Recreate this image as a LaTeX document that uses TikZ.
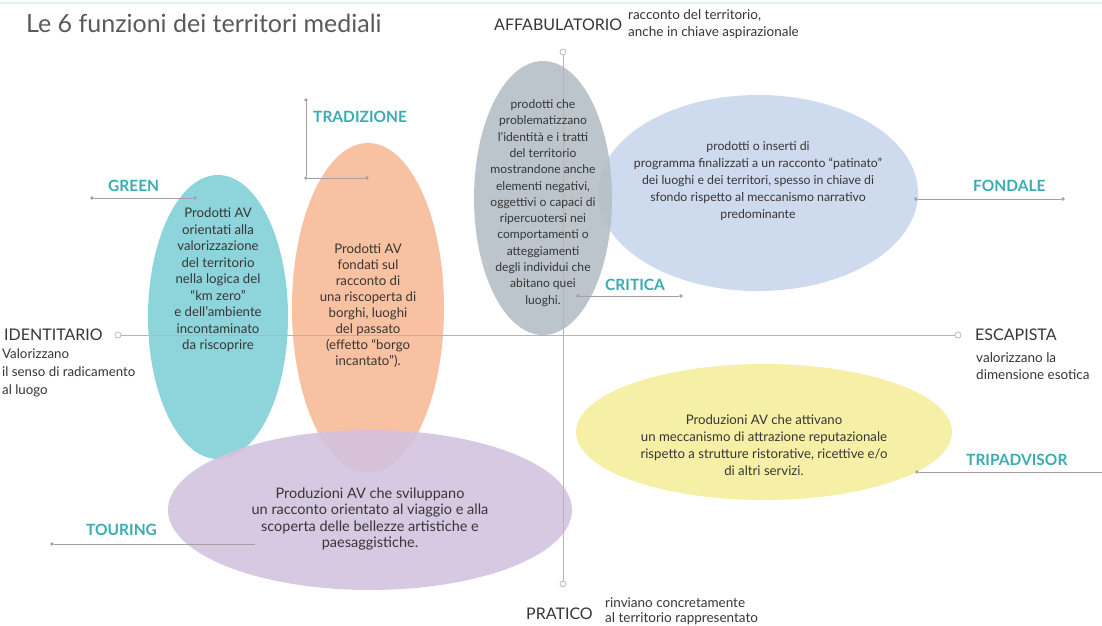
\documentclass[tikz,border=0pt]{standalone}
\usepackage{fontspec}
\setmainfont{Lato}
\usetikzlibrary{shapes.geometric}
\definecolor{cyanE}{HTML}{7FCFD7}
\definecolor{orangeE}{HTML}{F6B996}
\definecolor{grayE}{HTML}{B3BEC4}
\definecolor{blueE}{HTML}{C8D6EC}
\definecolor{yellowE}{HTML}{F4EE9A}
\definecolor{purpleE}{HTML}{D3C2E0}
\definecolor{teal}{HTML}{3AADB2}
\definecolor{txt}{HTML}{363636}
\definecolor{titlegray}{HTML}{5A5A5A}
\definecolor{axisc}{HTML}{BDB0B6}
\definecolor{leadc}{HTML}{A89DA3}
\definecolor{topc}{HTML}{DDF1F4}
\tikzset{
  blob/.style={ellipse, inner sep=0pt, draw=none, fill opacity=0.88},
  body/.style={align=center, inner sep=0pt, text=txt},
  axlab/.style={anchor=west, inner sep=0pt, text=txt, font=\fontsize{16}{18}\selectfont},
  axnote/.style={anchor=west, align=left, inner sep=0pt, text=txt},
  catlab/.style={anchor=west, inner sep=0pt, text=teal, font=\bfseries\fontsize{15.5}{17}\selectfont},
  axend/.style={circle, draw=axisc, fill=white, line width=0.7pt, minimum size=6pt, inner sep=0pt},
  leaddot/.style={circle, fill=leadc, minimum size=3.6pt, inner sep=0pt},
  axisline/.style={draw=axisc, line width=0.8pt},
  leadline/.style={draw=leadc, line width=0.7pt},
}
\begin{document}
\begin{tikzpicture}[x=1pt,y=-1pt]
\useasboundingbox (0,0) rectangle (1102,625);
\fill[white] (0,0) rectangle (1102,625);
\coordinate (tl) at (0,3);
\coordinate (tr) at (1102,3);
\draw[topc, line width=1.2pt] (tl) -- (tr);

% title
\node[anchor=west, inner sep=0pt, text=titlegray, font=\fontsize{25}{28}\selectfont] (title) at (26,23) {Le 6 funzioni dei territori mediali};

% ellipses
\node[blob, fill=cyanE, minimum width=140pt, minimum height=284pt] (green) at (218,317) {};
\node[blob, fill=orangeE, minimum width=152pt, minimum height=330pt] (trad) at (368,308) {};
\node[blob, fill=blueE, minimum width=320pt, minimum height=196pt] (fond) at (758,193) {};
\node[blob, fill=grayE, minimum width=138pt, minimum height=274pt] (crit) at (543,198) {};
\node[blob, fill=yellowE, minimum width=376pt, minimum height=136pt] (trip) at (764,432) {};
\node[blob, fill=purpleE, minimum width=404pt, minimum height=160pt] (tour) at (370,510) {};

% axes
\node[axend] (idot) at (118,335) {};
\node[axend] (edot) at (958,335) {};
\node[axend] (adot) at (563,52) {};
\node[axend] (pdot) at (563,584) {};
\draw[axisline] (idot) -- (edot);
\draw[axisline] (adot) -- (pdot);

% ellipse texts
\node[body, font=\fontsize{13.2}{16.5}\selectfont] (greentext) at (218,280) {Prodotti AV\\orientati alla\\valorizzazione\\del territorio\\nella logica del\\``km zero''\\e dell'ambiente\\incontaminato\\da riscoprire};
\node[body, font=\fontsize{13.2}{16}\selectfont] (tradtext) at (368,306) {Prodotti AV\\fondati sul\\racconto di\\una riscoperta di\\borghi, luoghi\\del passato\\(effetto ``borgo\\incantato'').};
\node[body, font=\fontsize{12.1}{16.3}\selectfont] (crittext) at (543,203) {prodotti che\\problematizzano\\l'identità e i tratti\\del territorio\\mostrandone anche\\elementi negativi,\\oggettivi o capaci di\\ripercuotersi nei\\comportamenti o\\atteggiamenti\\degli individui che\\abitano quei\\luoghi.};
\node[body, font=\fontsize{12.3}{17}\selectfont] (fondtext) at (758,181) {prodotti o inserti di\\programma finalizzati a un racconto ``patinato''\\dei luoghi e dei territori, spesso in chiave di\\sfondo rispetto al meccanismo narrativo\\predominante};
\node[body, font=\fontsize{13.2}{17}\selectfont] (triptext) at (764,445) {Produzioni AV che attivano\\un meccanismo di attrazione reputazionale\\rispetto a strutture ristorative, ricettive e/o\\di altri servizi.};
\node[body, font=\fontsize{14.5}{16.6}\selectfont] (tourtext) at (370,519) {Produzioni AV che sviluppano\\un racconto orientato al viaggio e alla\\scoperta delle bellezze artistiche e\\paesaggistiche.};

% axis labels
\node[axlab] (identitario) at (4,335) {IDENTITARIO};
\node[axnote, font=\fontsize{13.3}{18}\selectfont] (identnote) at (2,373) {Valorizzano\\il senso di radicamento\\al luogo};
\node[axlab] (escapista) at (975,335) {ESCAPISTA};
\node[axnote, font=\fontsize{13.5}{17}\selectfont] (escnote) at (976,366) {valorizzano la\\dimensione esotica};
\node[axlab] (affab) at (494,25) {AFFABULATORIO};
\node[axnote, font=\fontsize{13.5}{17}\selectfont] (affnote) at (628,24) {racconto del territorio,\\anche in chiave aspirazionale};
\node[axlab] (pratico) at (526,614) {PRATICO};
\node[axnote, font=\fontsize{13.5}{15}\selectfont] (pratnote) at (605,611) {rinviano concretamente\\al territorio rappresentato};

% category labels and leaders
\node[catlab] (greenlab) at (108,186) {GREEN};
\node[leaddot] (g1) at (92,198) {};
\node[leaddot] (g2) at (195,198) {};
\draw[leadline] (g1) -- (g2);

\node[catlab] (tradlab) at (313,117) {TRADIZIONE};
\node[leaddot] (t1) at (306,100) {};
\node[leaddot] (t2) at (306,178) {};
\node[leaddot] (t3) at (367,178) {};
\draw[leadline] (t1) -- (t2) -- (t3);

\node[catlab] (critlab) at (605,285) {CRITICA};
\node[leaddot] (c1) at (578,296) {};
\node[leaddot] (c2) at (681,296) {};
\draw[leadline] (c1) -- (c2);

\node[catlab] (fondlab) at (973,186) {FONDALE};
\node[leaddot] (f1) at (916,199) {};
\node[leaddot] (f2) at (1063,199) {};
\draw[leadline] (f1) -- (f2);

\node[catlab] (triplab) at (966,460) {TRIPADVISOR};
\node[leaddot] (r1) at (917,472) {};
\coordinate (r2) at (1102,472);
\draw[leadline] (r1) -- (r2);

\node[catlab] (tourlab) at (86,530) {TOURING};
\node[leaddot] (o1) at (52,544) {};
\coordinate (o2) at (255,544);
\draw[leadline] (o1) -- (o2);
\end{tikzpicture}
\end{document}
